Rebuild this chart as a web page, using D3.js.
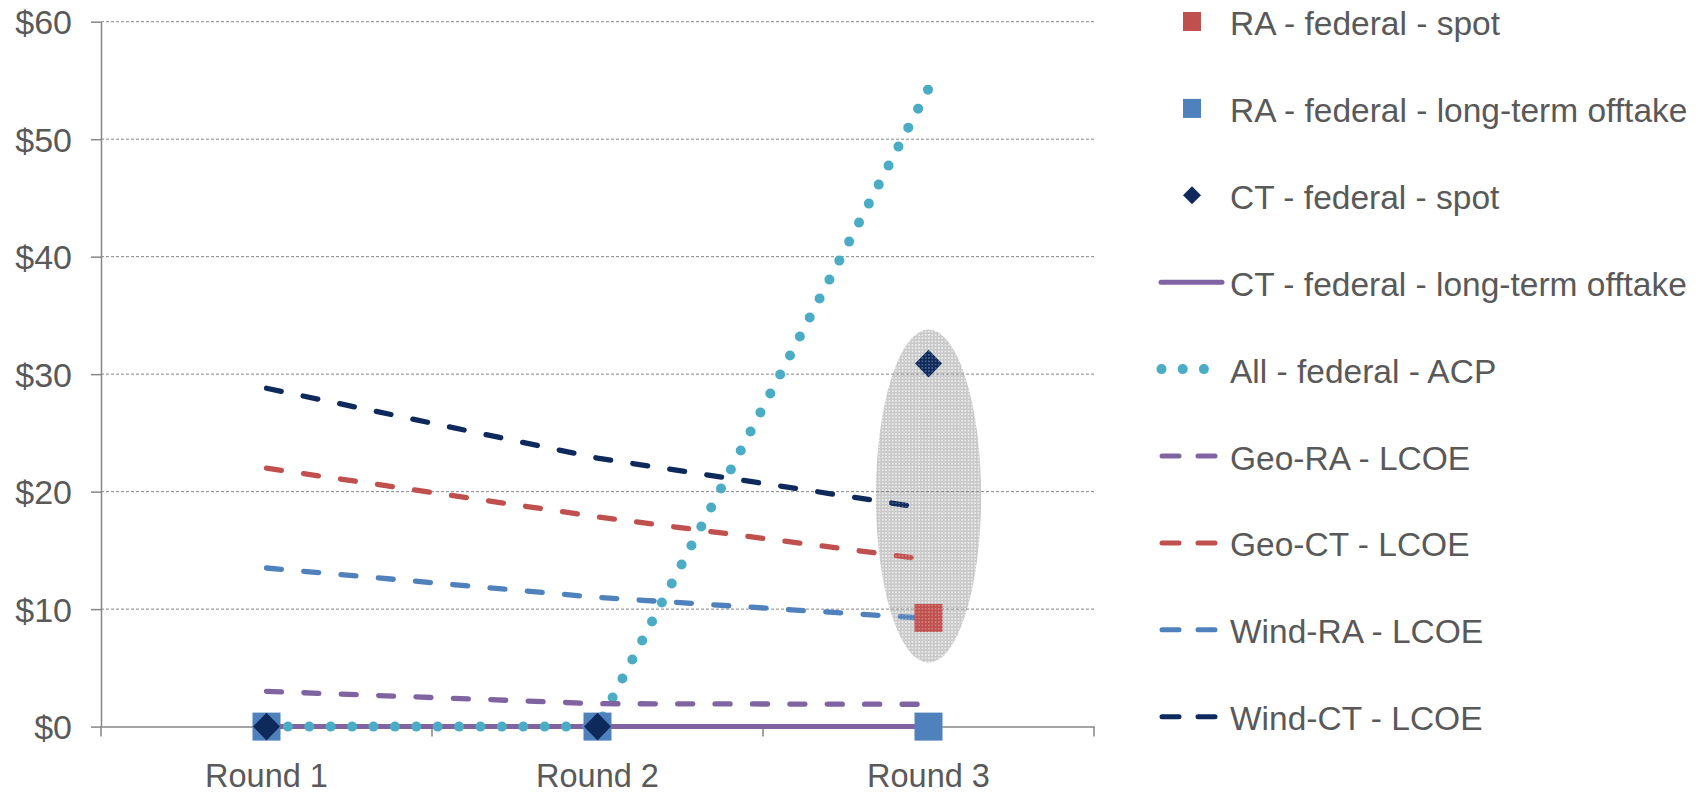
<!DOCTYPE html>
<html><head><meta charset="utf-8">
<script src="https://cdn.jsdelivr.net/npm/d3@7"></script>
<style>
html,body{margin:0;padding:0;background:#fff;}
svg text{font-family:"Liberation Sans",Arial,sans-serif;fill:#595959;}
</style></head>
<body><svg id="c" width="1703" height="793"></svg>
<script>
const rounds = ["Round 1", "Round 2", "Round 3"];
const yTicks = [0, 10, 20, 30, 40, 50, 60];
const raSpot   = [null, null, 9.25];
const raLong   = [0, 0, 0];
const ctSpot   = [0, 0, 30.9];
const ctLong   = [0, 0, 0];
const acp      = [0, 0, 54.3];
const geoRA    = [3.0, 1.95, 1.9];
const geoCT    = [22.0, 17.85, 14.2];
const windRA   = [13.5, 11.0, 9.2];
const windCT   = [28.8, 22.85, 18.55];
const highlightRange = [5.45, 33.8];   // annotated range around Round 3
const legendLabels = ["RA - federal - spot", "RA - federal - long-term offtake", "CT - federal - spot",
  "CT - federal - long-term offtake", "All - federal - ACP", "Geo-RA - LCOE", "Geo-CT - LCOE",
  "Wind-RA - LCOE", "Wind-CT - LCOE"];

const C = {red:"#C0504D", blue:"#4F81BD", navy:"#0E2A5C", purple:"#8064A2", teal:"#4BACC6", axis:"#868686"};

const svg = d3.select("#c");
const x = d3.scaleBand().domain(rounds).range([101, 1094]).padding(0);
const y = d3.scaleLinear().domain([0, 60]).range([726.6, 21.7]);
const cx = r => x(r) + x.bandwidth() / 2;

// defs: patterns for highlight ellipse
const defs = svg.append("defs");
const pat = defs.append("pattern").attr("id", "dots").attr("patternUnits", "userSpaceOnUse")
  .attr("width", 3.3).attr("height", 3.3);
pat.append("rect").attr("width", 3.3).attr("height", 3.3).attr("fill", "#c9c9c9");
pat.append("circle").attr("cx", 1.65).attr("cy", 1.65).attr("r", 0.85).attr("fill", "#ededed");
const pat2 = defs.append("pattern").attr("id", "dots2").attr("patternUnits", "userSpaceOnUse")
  .attr("width", 3.3).attr("height", 3.3);
pat2.append("circle").attr("cx", 1.65).attr("cy", 1.65).attr("r", 0.85).attr("fill", "rgba(255,255,255,0.35)");

const ell = {
  cx: cx("Round 3"),
  cy: (y(highlightRange[0]) + y(highlightRange[1])) / 2,
  rx: x.bandwidth() * 0.159,
  ry: (y(highlightRange[0]) - y(highlightRange[1])) / 2
};
svg.append("ellipse").attr("cx", ell.cx).attr("cy", ell.cy).attr("rx", ell.rx).attr("ry", ell.ry)
  .attr("fill", "url(#dots)");

// gridlines
svg.append("g").selectAll("line").data(yTicks.filter(d => d > 0)).join("line")
  .attr("x1", x.range()[0]).attr("x2", x.range()[1])
  .attr("y1", d => y(d)).attr("y2", d => y(d))
  .attr("stroke", C.axis).attr("stroke-width", 1).attr("stroke-dasharray", "3,2");

// y axis
const ya = svg.append("g").attr("transform", `translate(${x.range()[0]},0)`)
  .call(d3.axisLeft(y).tickValues(yTicks).tickSize(10).tickSizeOuter(0).tickPadding(19).tickFormat(d => "$" + d));
ya.select(".domain").attr("stroke", C.axis).attr("stroke-width", 1.5);
ya.selectAll(".tick line").attr("stroke", C.axis).attr("stroke-width", 1.5);
ya.selectAll(".tick text").attr("font-size", 34).attr("dy", 12).attr("fill", "#595959");

// x axis
const xa = svg.append("g").attr("transform", `translate(0,${y(0)})`)
  .call(d3.axisBottom(x).tickSize(0).tickSizeOuter(0).tickPadding(0));
xa.select(".domain").attr("stroke", C.axis).attr("stroke-width", 1.5);
xa.selectAll(".tick text").attr("font-size", 32.5).attr("y", 60.5).attr("dy", 0).attr("fill", "#595959");
const bounds = rounds.map(r => x(r)).concat([x.range()[1]]);
svg.append("g").selectAll("line").data(bounds).join("line")
  .attr("x1", d => d).attr("x2", d => d).attr("y1", y(0)).attr("y2", y(0) + 10)
  .attr("stroke", C.axis).attr("stroke-width", 1.5);

const line = d3.line().defined(d => d != null).x((d, i) => cx(rounds[i])).y(d => y(d));

// lines
const dashSpec = "15,22.4";
const lineSeries = [
  {v: ctLong, c: C.purple, w: 5, dash: null},
  {v: acp, c: C.teal, w: 10, dash: "0,21.4"},
  {v: geoRA, c: C.purple, w: 5.3, dash: dashSpec},
  {v: geoCT, c: C.red, w: 5.3, dash: dashSpec},
  {v: windRA, c: C.blue, w: 5.3, dash: dashSpec},
  {v: windCT, c: C.navy, w: 5.3, dash: dashSpec}
];
svg.append("g").selectAll("path").data(lineSeries).join("path")
  .attr("d", d => line(d.v)).attr("fill", "none").attr("stroke", d => d.c)
  .attr("stroke-width", d => d.w).attr("stroke-linecap", "round")
  .attr("stroke-dasharray", d => d.dash);

// markers
const sq = 28;
svg.append("g").selectAll("rect").data(raSpot.map((v, i) => ({v, r: rounds[i]})).filter(d => d.v != null)).join("rect")
  .attr("x", d => cx(d.r) - sq / 2).attr("y", d => y(d.v) - sq / 2).attr("width", sq).attr("height", sq).attr("fill", C.red);
svg.append("g").selectAll("rect").data(raLong.map((v, i) => ({v, r: rounds[i]}))).join("rect")
  .attr("x", d => cx(d.r) - sq / 2).attr("y", d => y(d.v) - sq / 2).attr("width", sq).attr("height", sq).attr("fill", C.blue);
const diamond = (px, py, hw, hh) => `M${px},${py - hh}L${px + hw},${py}L${px},${py + hh}L${px - hw},${py}Z`;
svg.append("g").selectAll("path").data(ctSpot.map((v, i) => ({v, r: rounds[i]}))).join("path")
  .attr("d", d => diamond(cx(d.r), y(d.v), 13.5, 13.8)).attr("fill", C.navy);

// faint dot texture over highlighted marks
svg.append("ellipse").attr("cx", ell.cx).attr("cy", ell.cy).attr("rx", ell.rx).attr("ry", ell.ry)
  .attr("fill", "url(#dots2)");

// legend
const legY = i => 21.5 + 86.9 * i;
const lg = svg.append("g");
const syms = [
  {t: "sq", c: C.red}, {t: "sq", c: C.blue}, {t: "dia", c: C.navy}, {t: "solid", c: C.purple},
  {t: "dot", c: C.teal}, {t: "dash", c: C.purple}, {t: "dash", c: C.red}, {t: "dash", c: C.blue}, {t: "dash", c: C.navy}
];
syms.forEach((s, i) => {
  const yy = legY(i);
  if (s.t === "sq") lg.append("rect").attr("x", 1183).attr("y", yy - 9.5).attr("width", 18).attr("height", 19).attr("fill", s.c);
  else if (s.t === "dia") lg.append("path").attr("d", diamond(1192, yy, 9, 9)).attr("fill", s.c);
  else if (s.t === "solid") lg.append("line").attr("x1", 1161).attr("x2", 1222).attr("y1", yy).attr("y2", yy)
    .attr("stroke", s.c).attr("stroke-width", 5).attr("stroke-linecap", "round");
  else if (s.t === "dot") lg.append("line").attr("x1", 1161.5).attr("x2", 1204).attr("y1", yy).attr("y2", yy)
    .attr("stroke", s.c).attr("stroke-width", 10).attr("stroke-linecap", "round").attr("stroke-dasharray", "0,21.2");
  else lg.append("line").attr("x1", 1162).attr("x2", 1217).attr("y1", yy).attr("y2", yy)
    .attr("stroke", s.c).attr("stroke-width", 5).attr("stroke-linecap", "round").attr("stroke-dasharray", "17,19");
  lg.append("text").attr("x", 1230).attr("y", yy + 13.5).attr("font-size", 33.5).text(legendLabels[i]);
});
</script></body></html>
